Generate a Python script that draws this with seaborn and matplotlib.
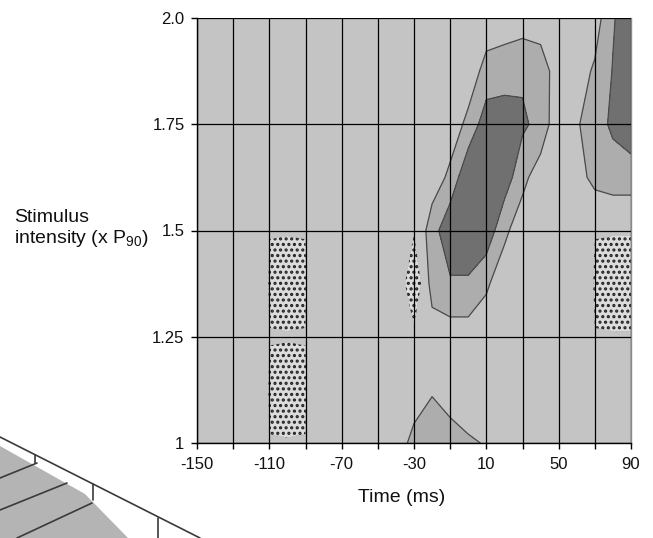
import numpy as np
import matplotlib
matplotlib.use("Agg")
import matplotlib.pyplot as plt
import seaborn as sns
from matplotlib.patches import Polygon
from matplotlib.lines import Line2D

# ---------------- data ----------------
time_ms = [-150, -140, -130, -120, -110, -100, -90, -80, -70, -60, -50, -40, -30,
           -20, -10, 0, 10, 20, 30, 40, 50, 60, 70, 80, 90]
intensity = [1.0, 1.125, 1.25, 1.375, 1.5, 1.625, 1.75, 1.875, 2.0]

# response values per intensity row (one value per time column)
resp_100 = [0.5, 0.5, 0.5, 0.9, 0.01, 0.1, 0.01, 0.9, 0.5, 0.5, 0.5, 0.5, 1.29,
            1.68, 1.46, 1.1, 0.95, 0.5, 0.5, 0.5, 0.5, 0.5, 0.5, 0.5, 0.5]
resp_1125 = [0.5, 0.5, 0.5, 0.9, -0.05, -0.9, -0.05, 0.9, 0.5, 0.5, 0.5, 0.5, 0.5,
             0.9, 0.5, 0.5, 0.5, 0.5, 0.5, 0.5, 0.5, 0.5, 0.5, 0.5, 0.5]
resp_125 = [0.5, 0.5, 0.5, 0.9, 0.01, 0.1, 0.01, 0.9, 0.5, 0.5, 0.5, 0.5, 0.2,
            0.5, 0.5, 0.5, 0.5, 0.5, 0.5, 0.5, 0.5, 0.5, 0.01, 0.1, 0.1]
resp_1375 = [0.5, 0.5, 0.5, 0.9, -0.05, -0.9, -0.05, 0.9, 0.5, 0.5, 0.5, 0.9, -0.9,
             1.4, 1.84, 1.84, 1.125, 0.5, 0.5, 0.5, 0.5, 0.5, -0.05, -0.9, -0.9]
resp_150 = [0.5, 0.5, 0.5, 0.9, 0.01, 0.1, 0.01, 0.9, 0.5, 0.5, 0.5, 0.5, 0.05,
            1.5, 2.85, 2.85, 2.72, 1.185, 0.5, 0.5, 0.5, 0.5, 0.01, 0.1, 0.1]
resp_1625 = [0.5, 0.5, 0.5, 0.5, 0.5, 0.5, 0.5, 0.5, 0.5, 0.5, 0.5, 0.5, 0.5,
             0.5, 1.2, 2.94, 2.9, 2.58, 1.26, 0.5, 0.5, 0.6, 1.3, 1.45, 1.45]
resp_175 = [0.5, 0.5, 0.5, 0.5, 0.5, 0.5, 0.5, 0.5, 0.5, 0.5, 0.5, 0.5, 0.5,
            0.5, 0.5, 1.22, 2.6, 2.6, 2.2, 1.63, 0.3, 0.9, 1.5, 2.21, 2.7]
resp_1875 = [0.5, 0.5, 0.5, 0.5, 0.5, 0.5, 0.5, 0.5, 0.5, 0.5, 0.5, 0.5, 0.5,
             0.5, 0.5, 0.5, 1.3, 1.5, 1.8, 1.5, 0.5, 0.5, 1.15, 2.05, 2.7]
resp_200 = [0.5, 0.5, 0.5, 0.5, 0.5, 0.5, 0.5, 0.5, 0.5, 0.5, 0.5, 0.5, 0.5,
            0.5, 0.5, 0.5, 0.5, 0.5, 0.5, 0.5, 0.5, 0.5, 0.5, 1.9, 2.7]

contour_levels = [-1.5, 0, 1, 2, 3.5]
low_levels = [-1.5, 0]

grid_times = [-150, -130, -110, -90, -70, -50, -30, -10, 10, 30, 50, 70, 90]
x_tick_labels = ["-150", "", "-110", "", "-70", "", "-30", "", "10", "", "50", "", "90"]
y_ticks = [1.0, 1.25, 1.5, 1.75, 2.0]
y_tick_labels = ["1", "1.25", "1.5", "1.75", "2.0"]

# ---------------- style ----------------
sns.set_theme(style="white")
plt.rcParams["font.family"] = ["Liberation Sans", "DejaVu Sans"]
plt.rcParams["mathtext.fontset"] = "custom"
plt.rcParams["mathtext.rm"] = "Liberation Sans"
plt.rcParams["mathtext.it"] = "Liberation Sans"
plt.rcParams["hatch.linewidth"] = 1.5

fill_colors = ["#dcdcdc", "#c4c4c4", "#adadad", "#707070"]

fig = plt.figure(figsize=(6.53, 5.38), dpi=100)
ax = fig.add_axes([197 / 653, 1 - 443 / 538, 434 / 653, 425 / 538])

Z = np.array([resp_100, resp_1125, resp_125, resp_1375, resp_150,
              resp_1625, resp_175, resp_1875, resp_200])

ax.contourf(time_ms, intensity, Z, levels=contour_levels, colors=fill_colors)
dots = ax.contourf(time_ms, intensity, Z, levels=low_levels, colors="none",
                   hatches=["..."])
dots.set_edgecolor("#222222")
dots.set_linewidth(0)
ax.contour(time_ms, intensity, Z, levels=[1, 2], colors="#4a4a4a", linewidths=0.9)

ax.set_xlim(-150, 90)
ax.set_ylim(1.0, 2.0)
ax.set_xticks(grid_times)
ax.set_xticklabels(x_tick_labels)
ax.set_yticks(y_ticks)
ax.set_yticklabels(y_tick_labels)
ax.grid(True, color="black", linewidth=0.9)
ax.set_axisbelow(False)
ax.tick_params(axis="both", which="major", labelsize=12, length=4, width=1,
               color="black", direction="out", pad=5, labelcolor="#111111")
ax.tick_params(axis="x", bottom=True, pad=6)
ax.tick_params(axis="y", left=True)

for side in ["left", "bottom"]:
    ax.spines[side].set_color("black")
    ax.spines[side].set_linewidth(1.0)
ax.spines["top"].set_visible(False)
ax.spines["right"].set_color("#8a8a8a")
ax.spines["right"].set_linewidth(1.0)

fig.text(402 / 653, 1 - 497 / 538, "Time (ms)", ha="center", va="center",
         fontsize=14, color="#111111")
fig.text(14 / 653, 1 - 229 / 538, "Stimulus\nintensity (x P$_{90}$)", ha="left",
         va="center", fontsize=14, linespacing=1.15, color="#111111")

# ---------------- decoration: cropped corner of a neighbouring figure ----------------
def fp(px, py):
    return (px / 653, 1 - py / 538)

frag = Polygon([fp(0, 446), fp(85, 494), fp(128, 538), fp(0, 538)], closed=True,
               transform=fig.transFigure, facecolor="#b4b4b4", edgecolor="none")
fig.add_artist(frag)
for (a, b) in [((0, 437), (200, 538)), ((35, 455), (35, 463)), ((93, 484), (93, 500)),
               ((158, 518), (158, 538)), ((37, 463), (0, 478)), ((67, 483), (0, 510)),
               ((92, 503), (17, 538))]:
    p1, p2 = fp(*a), fp(*b)
    fig.add_artist(Line2D([p1[0], p2[0]], [p1[1], p2[1]], transform=fig.transFigure,
                          color="#3a3a3a", linewidth=1.2))

fig.savefig("out.png", dpi=100)
